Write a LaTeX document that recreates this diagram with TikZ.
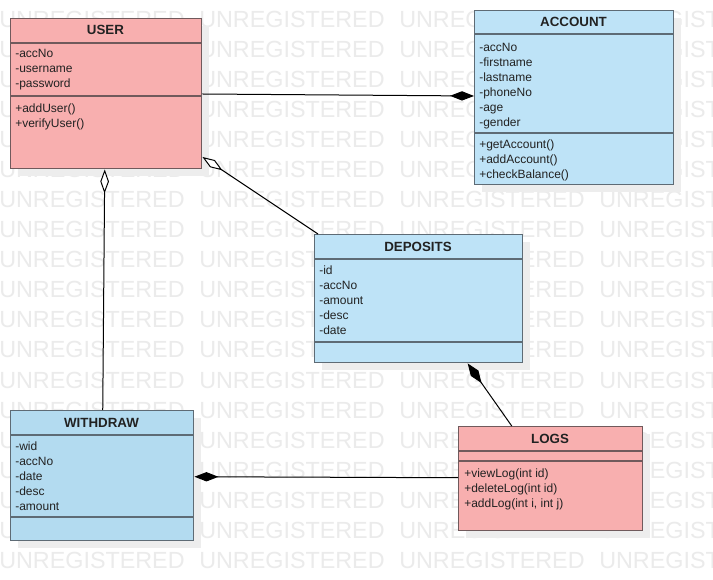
\documentclass[tikz,border=0pt]{standalone}
\usepackage{fontspec}
\setmainfont{Liberation Sans}
\usetikzlibrary{arrows.meta,calc,shadows}
\definecolor{pinkfill}{HTML}{F8AFAF}
\definecolor{bluefill}{HTML}{BEE3F7}
\definecolor{bluefillB}{HTML}{B3DBF0}
\definecolor{blueedge}{HTML}{5E6B75}
\definecolor{pinkedge}{HTML}{705A5C}
\definecolor{wmgray}{HTML}{EBEBEB}
\definecolor{shadowgray}{HTML}{EDEDED}
\definecolor{txtcol}{HTML}{222222}
\tikzset{
  comptip/.tip={Diamond[length=18pt,width=7pt]},
  aggrtip/.tip={Diamond[open,fill=white,length=18pt,width=6.5pt]}
}
\begin{document}
\begin{tikzpicture}[x=0.75pt,y=-0.75pt,
  classbox/.style={draw, line width=1.1pt, inner sep=0pt, anchor=north west,
    drop shadow={shadow xshift=5.25pt, shadow yshift=-5.25pt, fill=shadowgray, opacity=1}},
  pinkbox/.style={classbox, fill=pinkfill, draw=pinkedge},
  bluebox/.style={classbox, fill=bluefill, draw=blueedge},
  blueboxB/.style={classbox, fill=bluefillB, draw=blueedge},
  sep/.style={line width=1.1pt},
  header/.style={anchor=base, inner sep=0pt, text=txtcol, font=\fontsize{10}{12}\selectfont\bfseries},
  txt/.style={anchor=north west, inner sep=0pt, align=left, text=txtcol, font=\fontsize{9}{11.25}\selectfont},
  wm/.style={anchor=base west, inner sep=0pt, text=wmgray, font=\fontsize{17.5}{17.5}\selectfont},
  conn/.style={draw=black, line width=0.75pt}
]
\useasboundingbox (0,0) rectangle (713,580);
\clip (0,0) rectangle (713,580);
\fill[white] (0,0) rectangle (713,580);

% watermark
\foreach \r in {0,...,18}{
  \foreach \c in {0,...,3}{
    \node[wm] (wm-\r-\c) at (-1+200*\c, 28+30*\r) {UNREGISTERED};
  }
}

% USER
\node[pinkbox, minimum width=143.25pt, minimum height=112.5pt] (user) at (10,18) {};
\draw[sep, pinkedge] ($(user.north west)+(0,25)$) -- ($(user.north east)+(0,25)$);
\draw[sep, pinkedge] ($(user.north west)+(0,78)$) -- ($(user.north east)+(0,78)$);
\node[header] (user-h) at (105.5,35) {USER};
\node[txt] (user-a) at (15,48.3) {\rule{0pt}{7pt}-accNo\\-username\\-password};
\node[txt] (user-m) at (15,102.7) {\rule{0pt}{7pt}+addUser()\\+verifyUser()};

% ACCOUNT
\node[bluebox, minimum width=149.25pt, minimum height=130.5pt] (account) at (474,10) {};
\draw[sep, blueedge] ($(account.north west)+(0,24)$) -- ($(account.north east)+(0,24)$);
\draw[sep, blueedge] ($(account.north west)+(0,123)$) -- ($(account.north east)+(0,123)$);
\node[header] (account-h) at (573.5,27) {ACCOUNT};
\node[txt] (account-a) at (479,41.7) {\rule{0pt}{7pt}-accNo\\-firstname\\-lastname\\-phoneNo\\-age\\-gender};
\node[txt] (account-m) at (479,138.7) {\rule{0pt}{7pt}+getAccount()\\+addAccount()\\+checkBalance()};

% DEPOSITS
\node[bluebox, minimum width=156pt, minimum height=96pt] (deposits) at (314,234) {};
\draw[sep, blueedge] ($(deposits.north west)+(0,25)$) -- ($(deposits.north east)+(0,25)$);
\draw[sep, blueedge] ($(deposits.north west)+(0,108)$) -- ($(deposits.north east)+(0,108)$);
\node[header] (deposits-h) at (418,252) {DEPOSITS};
\node[txt] (deposits-a) at (319,264.7) {\rule{0pt}{7pt}-id\\-accNo\\-amount\\-desc\\-date};

% WITHDRAW
\node[blueboxB, minimum width=137.25pt, minimum height=97.5pt] (withdraw) at (10,410) {};
\draw[sep, blueedge] ($(withdraw.north west)+(0,25)$) -- ($(withdraw.north east)+(0,25)$);
\draw[sep, blueedge] ($(withdraw.north west)+(0,107)$) -- ($(withdraw.north east)+(0,107)$);
\node[header] (withdraw-h) at (101.5,427) {WITHDRAW};
\node[txt] (withdraw-a) at (15,440.7) {\rule{0pt}{7pt}-wid\\-accNo\\-date\\-desc\\-amount};

% LOGS
\node[pinkbox, minimum width=138pt, minimum height=78pt] (logs) at (458,426) {};
\draw[sep, pinkedge] ($(logs.north west)+(0,25)$) -- ($(logs.north east)+(0,25)$);
\draw[sep, pinkedge] ($(logs.north west)+(0,35)$) -- ($(logs.north east)+(0,35)$);
\node[header] (logs-h) at (550,443) {LOGS};
\node[txt] (logs-m) at (464,467.7) {\rule{0pt}{7pt}+viewLog(int id)\\+deleteLog(int id)\\+addLog(int i, int j)};

% connectors
\draw[conn, -comptip] ($(user.north east)+(0,76)$) -- ($(account.north west)+(0,86)$);
\draw[conn, aggrtip-] ($(user.north east)+(0,139)$) -- ($(deposits.north west)+(4,0)$);
\draw[conn, aggrtip-] ($(user.south)+(-1.5,0)$) -- ($(withdraw.north)+(0.5,0)$);
\draw[conn, comptip-] ($(deposits.south)+(49,0)$) -- ($(logs.north)+(-39,0)$);
\draw[conn, comptip-] ($(withdraw.east)+(0,1)$) -- ($(logs.west)+(0,-1)$);
\end{tikzpicture}
\end{document}
